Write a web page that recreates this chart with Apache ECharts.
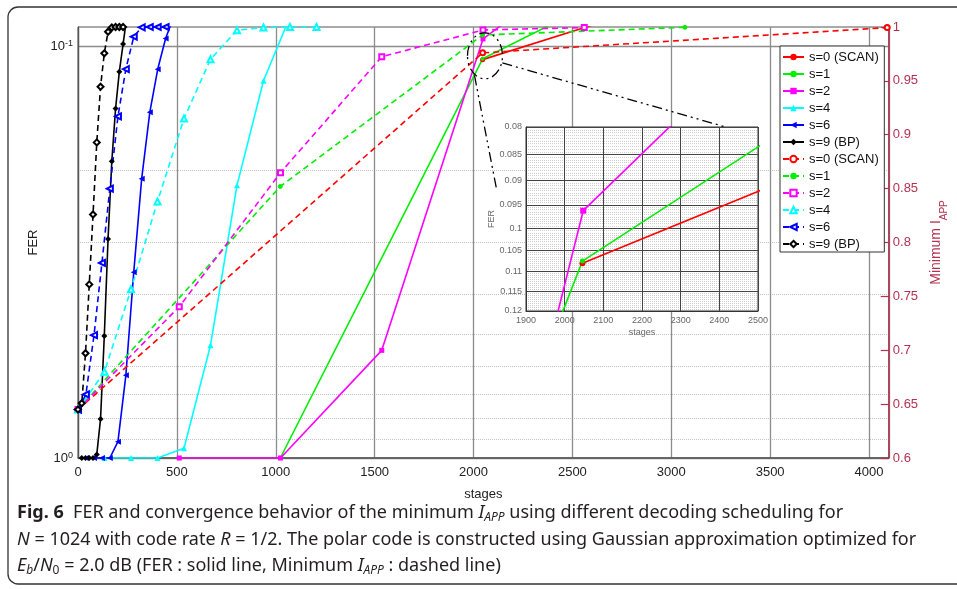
<!DOCTYPE html>
<html><head><meta charset="utf-8">
<script src="https://cdn.jsdelivr.net/npm/echarts@6/dist/echarts.min.js"></script>
<style>html,body{margin:0;padding:0;background:#fff}#c{width:957px;height:589px}</style>
</head><body><div id="c"></div>
<script>
// ---------- data ----------
const seriesNames = ['s=0 (SCAN)', 's=1', 's=2', 's=4', 's=6', 's=9 (BP)'];

// FER (solid lines, left log axis)
const ferStages_s0 = [2046, 4092];
const fer_s0 = [0.108, 0.053];
const ferStages_s1 = [1023, 2046, 3069];
const fer_s1 = [1.0, 0.1075, 0.061];
const ferStages_s2 = [512, 1024, 1536, 2048, 2560];
const fer_s2 = [1.0, 1.0, 0.548, 0.0962, 0.063];
const ferStages_s4 = [134, 268, 402, 536, 670, 804, 938, 1072, 1206];
const fer_s4 = [1.0, 1.0, 1.0, 0.947, 0.533, 0.218, 0.1215, 0.085, 0.08];
const ferStages_s6 = [40, 81, 121, 161, 202, 242, 282, 322, 363, 403, 443, 484];
const fer_s6 = [1.0, 1.0, 1.0, 1.0, 0.913, 0.63, 0.354, 0.21, 0.145, 0.114, 0.096, 0.085];
const ferStages_s9 = [19, 38, 57, 76, 95, 114, 133, 152, 171, 190, 209, 228, 247];
const fer_s9 = [1.0, 1.0, 1.0, 1.0, 0.98, 0.804, 0.506, 0.294, 0.1906, 0.142, 0.1155, 0.099, 0.085];

// Minimum I_APP (dashed lines, right axis)
const iappStages_s0 = [0, 2046, 4092];
const iapp_s0 = [0.645, 0.976, 0.9995];
const iappStages_s1 = [0, 1023, 2046, 3069];
const iapp_s1 = [0.645, 0.852, 0.9926, 0.9997];
const iappStages_s2 = [0, 512, 1024, 1536, 2048, 2560];
const iapp_s2 = [0.645, 0.7404, 0.8648, 0.9724, 0.9972, 0.9995];
const iappStages_s4 = [0, 134, 268, 402, 536, 670, 804, 938, 1072, 1206];
const iapp_s4 = [0.645, 0.680, 0.7566, 0.838, 0.915, 0.970, 0.997, 0.9995, 1.0, 1.0];
const iappStages_s6 = [0, 40, 81, 121, 161, 202, 242, 282, 322, 363, 403, 443];
const iapp_s6 = [0.645, 0.659, 0.714, 0.781, 0.850, 0.917, 0.961, 0.991, 0.9997, 1.0, 1.0, 1.0];
const iappStages_s9 = [0, 19, 38, 57, 76, 95, 114, 133, 152, 171, 190, 209, 228];
const iapp_s9 = [0.645, 0.6508, 0.6972, 0.7611, 0.826, 0.8929, 0.9446, 0.9756, 0.9956, 0.9995, 1.0, 1.0, 1.0];

// axis ticks
const ferMajorTicks = [0.1, 1];
const ferMinorTicks = [0.2, 0.3, 0.4, 0.5, 0.6, 0.7, 0.8, 0.9];
const insetMajorTicks = [0.08, 0.085, 0.09, 0.095, 0.1, 0.105, 0.11, 0.115, 0.12];
const insetMinorTicks = [];
for (let k = 0; k <= 80; k++) insetMinorTicks.push(+(0.08 + k * 0.0005).toFixed(4));

// zoom annotation (in main-plot data coordinates)
const zoomEllipseCenter = [2058, 0.1057];
const zoomLine1 = [[2005, 0.118], [2116, 0.222]];
const zoomLine2 = [[2146, 0.110], [3268, 0.157]];

// ---------- styling ----------
const colors = ['#ff0000', '#00ee00', '#ff00ff', '#00ffff', '#0000ff', '#000000'];
const solidSymbols = ['circle', 'circle', 'rect', 'triangle', 'triangle', 'diamond'];
const dashSymbols = ['emptyCircle', 'circle', 'emptyRect', 'emptyTriangle', 'emptyTriangle', 'emptyDiamond'];
const symSizes = [5, 4, 5, 6, 6, 6];
const symRot = [0, 0, 0, 0, 90, 0];
const crimson = '#b43251';
const FONT = 'Liberation Sans';
const plain = v => String(v);

const ferStages = [ferStages_s0, ferStages_s1, ferStages_s2, ferStages_s4, ferStages_s6, ferStages_s9];
const ferVals = [fer_s0, fer_s1, fer_s2, fer_s4, fer_s6, fer_s9];
const iappStages = [iappStages_s0, iappStages_s1, iappStages_s2, iappStages_s4, iappStages_s6, iappStages_s9];
const iappVals = [iapp_s0, iapp_s1, iapp_s2, iapp_s4, iapp_s6, iapp_s9];
const pts = (xs, ys) => xs.map((x, i) => [x, ys[i]]);

const series = [];
const legendNames = [];
for (let i = 0; i < 6; i++) {
  series.push({
    type: 'line', name: seriesNames[i], xAxisIndex: 0, yAxisIndex: 0,
    data: pts(ferStages[i], ferVals[i]), symbol: solidSymbols[i], symbolSize: symSizes[i],
    symbolRotate: symRot[i], showSymbol: true, clip: true, z: 2,
    lineStyle: { color: colors[i], width: 1.6, type: 'solid' }, itemStyle: { color: colors[i] }
  });
  legendNames.push(seriesNames[i]);
}
for (let i = 0; i < 6; i++) {
  const nm = seriesNames[i] + ' ';
  series.push({
    type: 'line', name: nm, xAxisIndex: 0, yAxisIndex: 2,
    data: pts(iappStages[i], iappVals[i]), symbol: dashSymbols[i], symbolSize: symSizes[i],
    symbolRotate: symRot[i], showSymbol: true, clip: true, z: 2,
    lineStyle: { color: colors[i], width: 1.6, type: [6, 4] }, itemStyle: { color: colors[i], borderColor: colors[i] }
  });
  legendNames.push(nm);
}
// inset: FER of s=0, s=1, s=2
for (let i = 0; i < 3; i++) {
  series.push({
    type: 'line', name: 'inset' + i, xAxisIndex: 1, yAxisIndex: 3,
    data: pts(ferStages[i], ferVals[i]), symbol: solidSymbols[i], symbolSize: symSizes[i] + 1,
    showSymbol: true, clip: true, z: 5,
    lineStyle: { color: colors[i], width: 1.6 }, itemStyle: { color: colors[i] }
  });
}

const option = {
  animation: false,
  textStyle: { fontFamily: FONT },
  grid: [
    { left: 78, top: 27, width: 812, height: 431, show: true, borderColor: '#555', borderWidth: 1, backgroundColor: 'transparent' },
    { left: 526, top: 127, width: 232, height: 184, show: true, z: 1, borderColor: '#333', borderWidth: 1, backgroundColor: '#fff' }
  ],
  legend: {
    data: legendNames, orient: 'vertical', left: 780, top: 46,
    backgroundColor: '#fff', borderColor: '#333', borderWidth: 1,
    padding: [4, 2, 1, 2], itemGap: 3, itemWidth: 21, itemHeight: 8,
    textStyle: { fontSize: 13, color: '#111', lineHeight: 14, fontFamily: FONT },
    selectedMode: false, z: 10
  },
  xAxis: [
    { type: 'value', gridIndex: 0, min: 0, max: 4100, interval: 500,
      axisLine: { lineStyle: { color: '#555', width: 1.5 } }, axisTick: { show: false },
      axisLabel: { fontSize: 13, color: '#222', margin: 8, showMaxLabel: false, fontFamily: FONT, formatter: plain },
      splitLine: { show: true, lineStyle: { color: '#8c8c8c', width: 1.3 } },
      name: 'stages', nameLocation: 'middle', nameGap: 30, nameTextStyle: { fontSize: 13, color: '#222', fontFamily: FONT } },
    { type: 'value', gridIndex: 1, min: 1900, max: 2500, interval: 100, z: 2,
      axisLine: { lineStyle: { color: '#333', width: 1 } }, axisTick: { show: false },
      axisLabel: { fontSize: 9, color: '#666', margin: 5, fontFamily: FONT, formatter: plain },
      splitLine: { show: true, lineStyle: { color: '#444', width: 1 } },
      name: 'stages', nameLocation: 'middle', nameGap: 17, nameTextStyle: { fontSize: 9, color: '#666', fontFamily: FONT } }
  ],
  yAxis: [
    { type: 'log', gridIndex: 0, inverse: true, min: 0.09, max: 1, position: 'left',
      axisLine: { show: true, lineStyle: { color: '#555', width: 1.3 } },
      axisTick: { show: false, customValues: ferMajorTicks },
      axisLabel: { customValues: ferMajorTicks, margin: 5, color: '#222',
        formatter: v => Math.abs(v - 1) < 1e-9 ? '{b|10}{s|0}' : '{b|10}{s|-1}',
        rich: { b: { fontSize: 13, fontFamily: FONT, color: '#222', lineHeight: 14, padding: [5, 0, 0, 0], verticalAlign: 'bottom' },
                s: { fontSize: 9, fontFamily: FONT, color: '#222', lineHeight: 10, verticalAlign: 'top' } } },
      splitLine: { show: true, lineStyle: { color: '#8c8c8c', width: 1.3 } },
      name: 'FER', nameLocation: 'middle', nameGap: 32, nameTextStyle: { fontSize: 13, color: '#222', fontFamily: FONT } },
    { type: 'log', gridIndex: 0, inverse: true, min: 0.09, max: 1, position: 'left',
      axisLine: { show: false }, axisLabel: { show: false },
      axisTick: { show: false, customValues: ferMinorTicks },
      splitLine: { show: true, lineStyle: { color: '#c4c4c4', width: 1, type: 'dotted' } } },
    { type: 'value', gridIndex: 0, min: 0.6, max: 1, interval: 0.05, position: 'right',
      axisLine: { show: true, lineStyle: { color: crimson, width: 1.5 } },
      axisTick: { show: true, inside: true, length: 8, lineStyle: { color: crimson, width: 1.2 } },
      axisLabel: { fontSize: 13, color: crimson, margin: 4, fontFamily: FONT },
      splitLine: { show: false },
      name: '{a|Minimum I}{b|APP}', nameLocation: 'middle', nameGap: 40,
      nameTextStyle: { color: crimson, rich: {
        a: { fontSize: 14, fontFamily: FONT, color: crimson, lineHeight: 16, padding: [0, 0, 6, 0], verticalAlign: 'bottom' },
        b: { fontSize: 10, fontFamily: FONT, color: crimson, lineHeight: 12, verticalAlign: 'bottom' } } } },
    { type: 'log', gridIndex: 1, inverse: true, min: 0.08, max: 0.12, z: 2,
      axisLine: { show: true, lineStyle: { color: '#333', width: 1 } },
      axisTick: { show: false, customValues: insetMajorTicks },
      axisLabel: { customValues: insetMajorTicks, fontSize: 9, color: '#666', margin: 4, fontFamily: FONT,
        formatter: v => String(parseFloat((+v).toFixed(3))) },
      splitLine: { show: true, lineStyle: { color: '#444', width: 1 } },
      name: 'FER', nameLocation: 'middle', nameGap: 22, nameTextStyle: { fontSize: 9, color: '#666', fontFamily: FONT } },
    { type: 'log', gridIndex: 1, inverse: true, min: 0.08, max: 0.12, z: 1,
      axisLine: { show: false }, axisLabel: { show: false },
      axisTick: { show: false, customValues: insetMinorTicks },
      splitLine: { show: true, lineStyle: { color: '#cfcfcf', width: 1, type: 'dotted' } } }
  ],
  series: series
};

const chart = echarts.init(document.getElementById('c'), null, { renderer: 'canvas' });
chart.setOption(option);

// annotations + caption
const toPx = p => chart.convertToPixel({ xAxisIndex: 0, yAxisIndex: 0 }, p);
const ec = toPx(zoomEllipseCenter);
const l1a = toPx(zoomLine1[0]), l1b = toPx(zoomLine1[1]);
const l2a = toPx(zoomLine2[0]), l2b = toPx(zoomLine2[1]);
const dashDot = [10, 4, 2, 4, 2, 4];
const CF = 'Noto Sans', CS = 18;
const capRich = {
  b: { fontFamily: CF, fontSize: CS, fontWeight: 'bold', fill: '#231f20' },
  n: { fontFamily: CF, fontSize: CS, fill: '#231f20' },
  i: { fontFamily: CF, fontSize: CS, fontStyle: 'italic', fill: '#231f20' },
  s: { fontFamily: CF, fontSize: 12, fontStyle: 'italic', fill: '#231f20', padding: [9, 0, 0, 0] },
  z: { fontFamily: CF, fontSize: 12, fill: '#231f20', padding: [9, 0, 0, 0] }
};
chart.setOption({
  graphic: [
    { type: 'rect', shape: { x: 8, y: 7, width: 970, height: 577, r: 10 }, style: { fill: 'none', stroke: '#333', lineWidth: 1.3 }, silent: true, z: 0 },
    { type: 'ellipse', shape: { cx: ec[0], cy: ec[1], rx: 17.5, ry: 23 }, style: { fill: 'none', stroke: '#000', lineWidth: 1.3, lineDash: dashDot }, z: 6 },
    { type: 'line', shape: { x1: l1a[0], y1: l1a[1], x2: l1b[0], y2: l1b[1] }, style: { stroke: '#000', lineWidth: 1.3, lineDash: dashDot }, z: 6 },
    { type: 'line', shape: { x1: l2a[0], y1: l2a[1], x2: l2b[0], y2: l2b[1] }, style: { stroke: '#000', lineWidth: 1.3, lineDash: dashDot }, z: 6 },
    { type: 'text', x: 17, y: 513, style: { text: '{b|Fig. 6}{n|  FER and convergence behavior of the minimum }{i|I}{s|APP}{n| using different decoding scheduling for}', rich: capRich, verticalAlign: 'middle' }, z: 6 },
    { type: 'text', x: 17, y: 540, style: { text: '{i|N}{n| = 1024 with code rate }{i|R}{n| = 1/2. The polar code is constructed using Gaussian approximation optimized for}', rich: capRich, verticalAlign: 'middle' }, z: 6 },
    { type: 'text', x: 17, y: 566, style: { text: '{i|E}{s|b}{n|/}{i|N}{z|0}{n| = 2.0 dB (FER : solid line, Minimum }{i|I}{s|APP}{n| : dashed line)}', rich: capRich, verticalAlign: 'middle' }, z: 6 }
  ]
});
</script>
</body></html>
